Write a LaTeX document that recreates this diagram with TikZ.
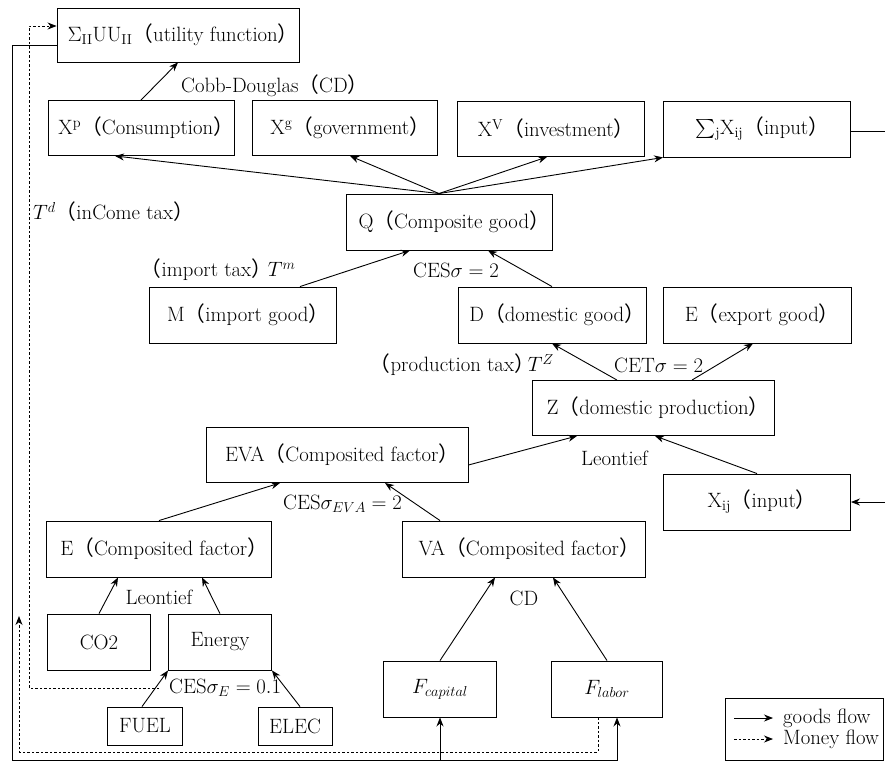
\documentclass[tikz,border=0pt]{standalone}
\usepackage{fontspec}
\newfontfamily\cjk{Noto Sans CJK JP}
\newcommand{\zl}{{\cjk （}}
\newcommand{\zs}{{\cjk\kern-.5em （}}
\newcommand{\zr}{{\cjk ）\kern-.5em}}
\usetikzlibrary{arrows.meta}
\tikzset{
	box/.style={draw,line width=0.9pt,minimum width=187,minimum height=55,inner sep=0pt},
	lab/.style={inner sep=1pt},
	ar/.style={line width=0.9pt,-{Stealth[length=9pt,width=7pt]}},
	mon/.style={dash pattern=on 2.5pt off 2pt},
}
\begin{document}
\begin{tikzpicture}[x=1pt,y=-1pt,font=\huge]
			\useasboundingbox (0,0) rectangle (885,764);
			% top: utility and final demand
			\node[box,minimum width=242,minimum height=54] (U) at (178,35) {$\Sigma$\textsubscript{II}UU\textsubscript{II}\zl utility function\zr};
			\node[box,minimum width=186] (Xp) at (141,128) {X\textsuperscript{p}\zl Consumption\zr};
			\node[box,minimum width=185] (Xg) at (345,128) {X\textsuperscript{g}\zl government\zr};
			\node[box] (Xv) at (551,129) {X\textsuperscript{V}\zl investment\zr};
			\node[box,minimum height=56] (SX) at (757,129) {\raisebox{-4pt}{\scalebox{1.9}{$\sum$}}\textsubscript{j}X\textsubscript{ij}\zl input\zr};
			\node[box,minimum width=206,minimum height=56] (Q) at (449,222) {Q\zl Composite good\zr};
			% trade
			\node[box,minimum height=56] (M) at (243,315) {M\zl import good\zr};
			\node[box,minimum width=188,minimum height=56] (D) at (552,315) {D\zl domestic good\zr};
			\node[box,minimum width=188,minimum height=56] (Ex) at (757,315) {E\zl export good\zr};
			\node[box,minimum width=242] (Z) at (653,408) {Z\zl domestic production\zr};
			% production
			\node[box,minimum width=262] (EVA) at (337,455) {EVA\zl Composited factor\zr};
			\node[box,minimum height=56] (Xij) at (757,502) {X\textsubscript{ij}\zl input\zr};
			\node[box,minimum width=225,minimum height=56] (Ec) at (159,549) {E\zl Composited factor\zr};
			\node[box,minimum width=243,minimum height=56] (VA) at (524,549) {VA\zl Composited factor\zr};
			\node[box,minimum width=103,minimum height=56] (CO) at (99,642) {CO2};
			\node[box,minimum width=103,minimum height=56] (En) at (220,642) {Energy};
			\node[box,minimum width=75,minimum height=38] (FU) at (145,726) {FUEL};
			\node[box,minimum width=74,minimum height=38] (EL) at (295,726) {ELEC};
			\node[box,minimum width=113,minimum height=56] (Fc) at (440,689) {$F_{capital}$};
			\node[box,minimum width=111,minimum height=56] (Fl) at (607,689) {$F_{labor}$};
			% labels
			\node[lab,anchor=west] (cd) at (180,86) {Cobb-Douglas\zl CD\zr};
			\node[lab,anchor=west] (td) at (32,212) {$T^d$\zl inCome tax\zr};
			\node[lab,anchor=west] (tm) at (150,270) {\zs import tax\zr\ $T^m$};
			\node[lab,anchor=west] (cesQ) at (412,270) {CES$\sigma=2$};
			\node[lab,anchor=east] (tz) at (555,365) {\zs production tax\zr\,$T^Z$};
			\node[lab,anchor=west] (cet) at (613,365) {CET$\sigma=2$};
			\node[lab,anchor=west] (leoZ) at (580,458) {Leontief};
			\node[lab,anchor=west] (cesEVA) at (282,504) {CES$\sigma_{EVA}=2$};
			\node[lab] (leoE) at (159,597) {Leontief};
			\node[lab] (cdVA) at (524,598) {CD};
			\node[lab,anchor=west] (cesE) at (168,688) {CES$\sigma_E=0.1$};
			% goods flow
			\draw[ar] (Xp.north) -- (U.south);
			\draw[ar] ([xshift=-10]Q.north) -- ([xshift=-26]Xp.south);
			\draw[ar] ([xshift=-10]Q.north) -- ([xshift=5]Xg.south);
			\draw[ar] ([xshift=-10]Q.north) -- ([xshift=-4]Xv.south);
			\draw[ar] ([xshift=-10]Q.north) -- (SX.south west);
			\draw[ar] ([xshift=57]M.north) -- ([xshift=-39]Q.south);
			\draw[ar] (D.north) -- ([xshift=39]Q.south);
			\draw[ar] ([xshift=-36]Z.north) -- (D.south);
			\draw[ar] ([xshift=39]Z.north) -- ([xshift=-4]Ex.south);
			\draw[ar] ([yshift=-10]EVA.east) -- ([xshift=-76]Z.south);
			\draw[ar] (Xij.north) -- ([xshift=2]Z.south);
			\draw[ar] (Ec.north) -- ([xshift=-57]EVA.south);
			\draw[ar] ([xshift=-84]VA.north) -- ([xshift=48]EVA.south);
			\draw[ar] (CO.north) -- ([xshift=-41]Ec.south);
			\draw[ar] (En.north) -- ([xshift=43]Ec.south);
			\draw[ar] ([xshift=-3]FU.north) -- (En.south west);
			\draw[ar] ([xshift=5]EL.north) -- (En.south east);
			\draw[ar] (Fc.north) -- ([xshift=-29]VA.south);
			\draw[ar] (Fl.north) -- ([xshift=29]VA.south);
			% loops round the frame
			\coordinate (rin) at (885,502);
			\coordinate (rout) at (885,131);
			\coordinate (bot) at (0,760);
			\coordinate (tdin) at (19,616);
			\draw[ar] (rin) -- (Xij.east);
			\draw[line width=0.9pt] ([yshift=-2]SX.east) -- (rout);
			\draw[ar] ([yshift=-10]U.west) -| (12,760) -| ([xshift=10]Fl.south);
			\draw[ar] (Fc.south |- bot) -- (Fc.south);
			% money flow
			\draw[ar,mon] ([xshift=-9]Fl.south) |- (19,752) -- (tdin);
			\draw[ar,mon] ([xshift=-9]cesE.west) -| (29,26) -- ([yshift=9]U.west);
			% legend
			\draw[line width=0.9pt] (725,698) rectangle (883,760);
			\node[lab,anchor=west] (gl) at (782,718) {goods flow};
			\node[lab,anchor=west] (ml) at (782,739) {Money flow};
			\draw[ar] ([xshift=-48]gl.west) -- ([xshift=-9]gl.west);
			\draw[ar,mon] ([xshift=-48]ml.west) -- ([xshift=-9]ml.west);
		\end{tikzpicture}
\end{document}
